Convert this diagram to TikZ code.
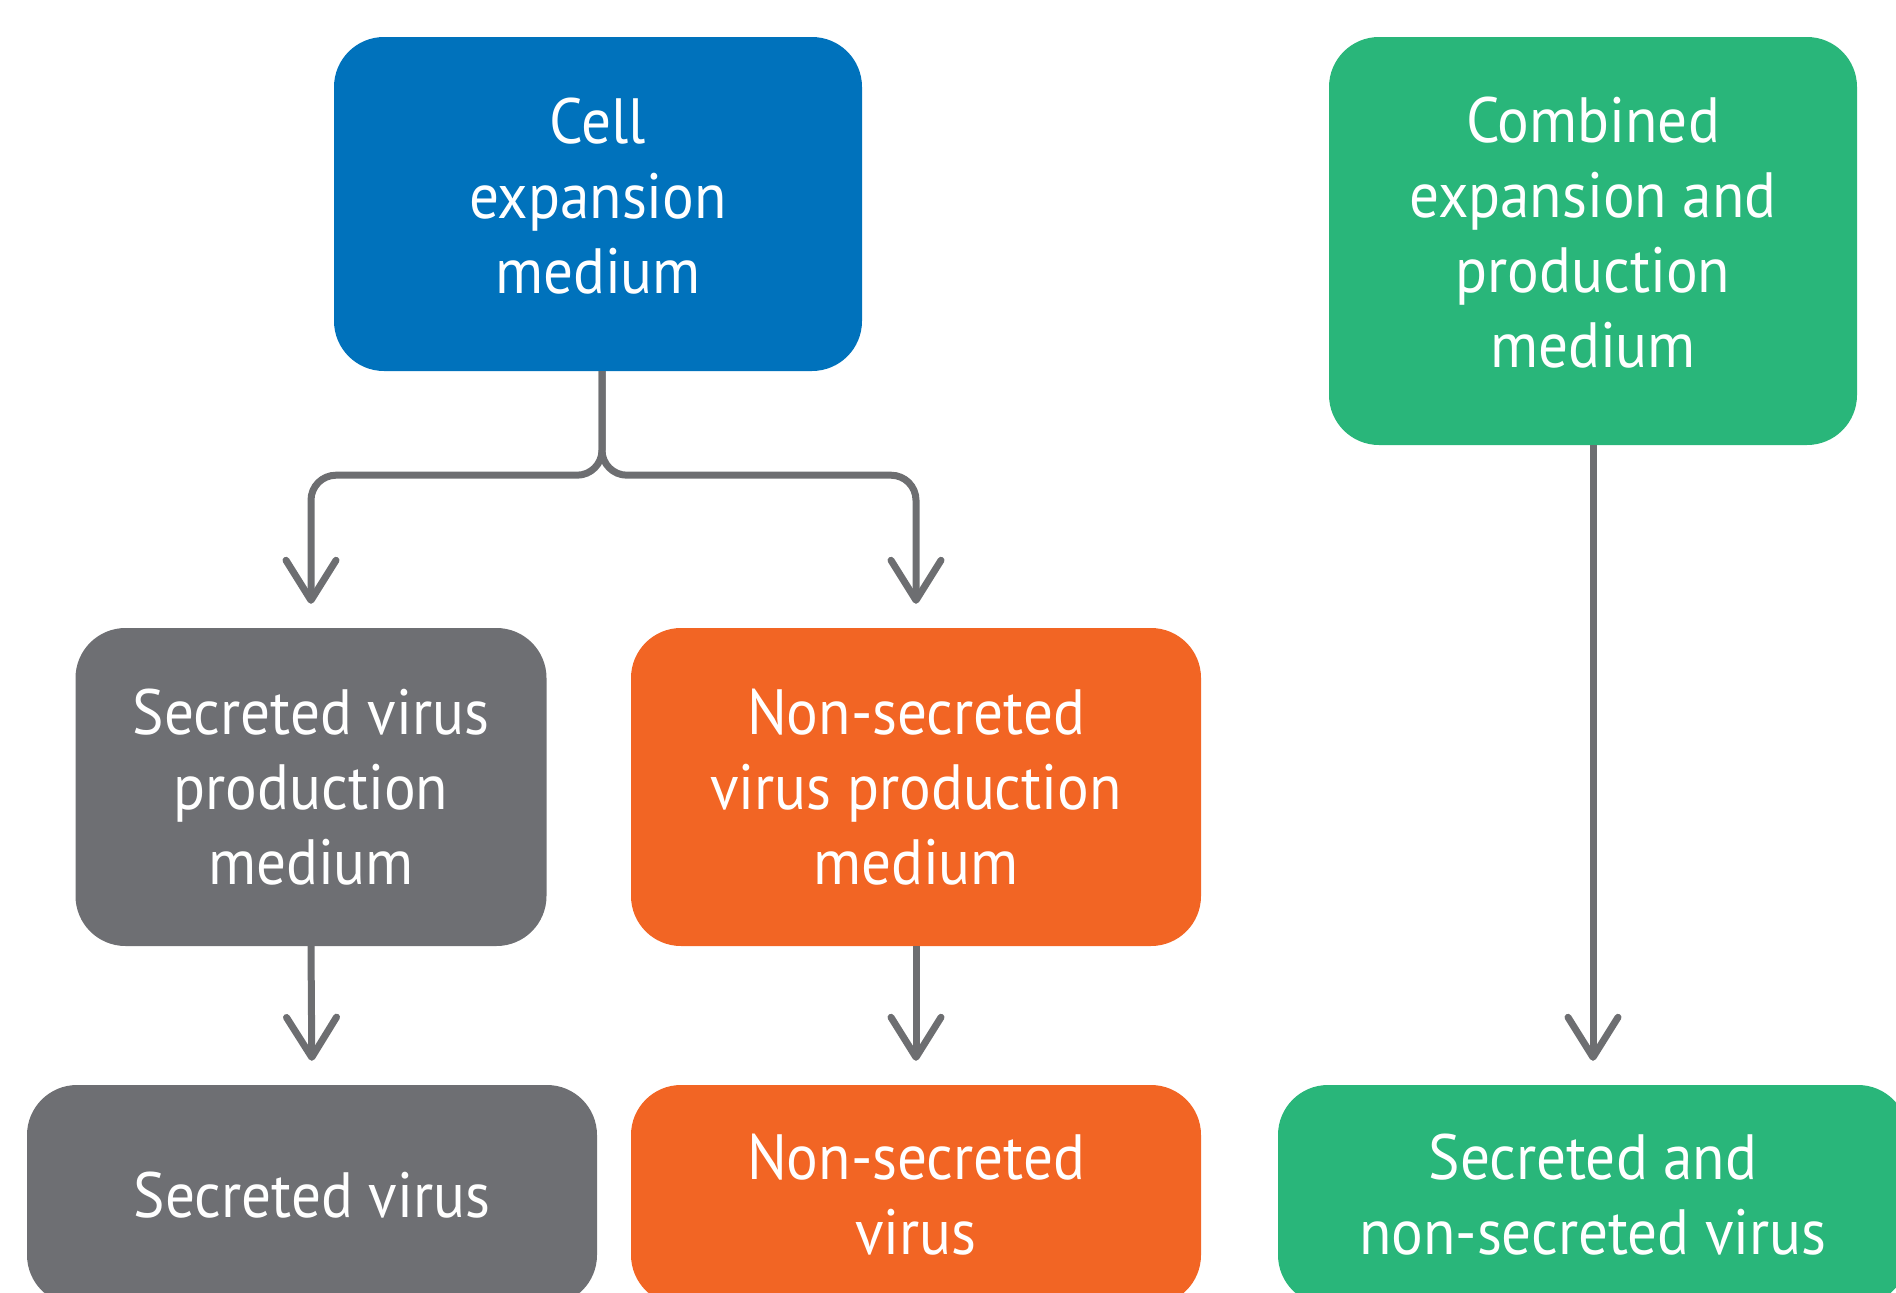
\documentclass[tikz,border=0pt]{standalone}
\usepackage{fontspec}
\setmainfont{PT Sans}[FakeStretch=0.925]
\usetikzlibrary{arrows.meta}
\definecolor{cblue}{RGB}{0,114,188}
\definecolor{cgreen}{RGB}{41,182,122}
\definecolor{cgray}{RGB}{110,111,115}
\definecolor{corange}{RGB}{242,101,36}
\definecolor{cline}{RGB}{109,110,113}
\begin{document}
\begin{tikzpicture}[x=1pt,y=-1pt,
  box/.style={rounded corners=50pt, align=center, text=white, inner sep=0pt,
    font=\fontsize{64}{75}\selectfont},
  conn/.style={draw=cline, line width=7pt, rounded corners=25pt,
    -{Straight Barb[length=40pt,width=50pt,round]}, shorten >=24pt}]
\useasboundingbox (0,0) rectangle (1896,1293);
\clip (0,0) rectangle (1896,1293);
\node[box, fill=cblue, minimum width=528pt, minimum height=334pt, text depth=17pt] (cem) at (598,204) {Cell\\expansion\\medium};
\node[box, fill=cgreen, minimum width=528pt, minimum height=408pt, text depth=17pt] (comb) at (1593,241) {Combined\\expansion and\\production\\medium};
\node[box, fill=cgray, minimum width=471pt, minimum height=318pt] (smed) at (311,787) {Secreted virus\\production\\medium};
\node[box, fill=corange, minimum width=570pt, minimum height=318pt] (nmed) at (916,787) {Non-secreted\\virus production\\medium};
\node[box, fill=cgray, minimum width=570pt, minimum height=220pt] (sv) at (312,1195) {Secreted virus};
\node[box, fill=corange, minimum width=570pt, minimum height=220pt] (nv) at (916,1195) {Non-secreted\\virus};
\node[box, fill=cgreen, minimum width=630pt, minimum height=220pt] (snv) at (1593,1195) {Secreted and\\non-secreted virus};
\coordinate (trunk) at ([xshift=4pt]cem.south);
\draw[conn] (trunk) -- ++(0,104) -| (smed.north);
\draw[conn] (trunk) -- ++(0,104) -| (nmed.north);
\draw[conn] (smed.south) -- (sv.north);
\draw[conn] (nmed.south) -- (nv.north);
\draw[conn] (comb.south) -- (snv.north);
\end{tikzpicture}
\end{document}
